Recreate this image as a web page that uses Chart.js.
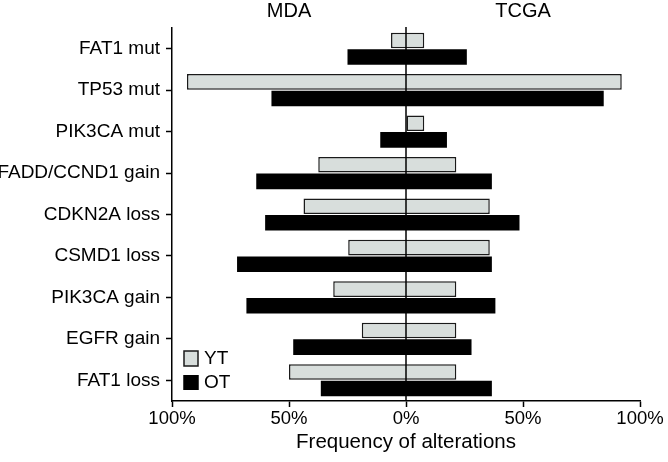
<!DOCTYPE html>
<html>
<head>
<meta charset="utf-8">
<script src="https://cdn.jsdelivr.net/npm/chart.js@4/dist/chart.umd.min.js"></script>
<style>
  html, body { margin: 0; padding: 0; background: #fff; }
  #wrap { width: 668px; height: 462px; }
</style>
</head>
<body>
<div id="wrap"><canvas id="altChart" width="668" height="462"></canvas></div>
<script>
const categories = ['FAT1 mut', 'TP53 mut', 'PIK3CA mut', 'FADD/CCND1 gain', 'CDKN2A loss',
                    'CSMD1 loss', 'PIK3CA gain', 'EGFR gain', 'FAT1 loss'];
// % altered, MDA cohort (drawn to the left) and TCGA (drawn to the right)
const ytMda  = [6.4, 93.6, 0, 37.5, 43.8, 24.7, 31.1, 18.9, 50.0];
const ytTcga = [7.8, 92.2, 7.8, 21.5, 35.8, 35.8, 21.5, 21.5, 21.5];
const otMda  = [25.0, 57.5, 11.0, 64.0, 60.2, 72.2, 68.2, 48.2, 36.4];
const otTcga = [26.0, 84.5, 17.5, 36.7, 48.5, 36.7, 38.2, 28.0, 36.7];
const xTicks = [-100, -50, 0, 50, 100];
const cohorts = ['MDA', 'TCGA'];

const FONT = "'Liberation Sans', Arial, Helvetica, sans-serif";
const YT_FILL = '#d8dedc';

const sidePlugin = {
    id: 'sideLabels',
    afterDatasetsDraw(chart) {
        const ctx = chart.ctx;
        const x = chart.scales.x;
        const area = chart.chartArea;
        // zero line on top of the bars
        const x0 = x.getPixelForValue(0);
        ctx.save();
        ctx.strokeStyle = '#000';
        ctx.lineWidth = 1.5;
        ctx.beginPath();
        ctx.moveTo(x0, area.top - 1);
        ctx.lineTo(x0, area.bottom);
        ctx.stroke();
        ctx.restore();
    },
    afterDraw(chart) {
        const ctx = chart.ctx;
        const x = chart.scales.x;
        const area = chart.chartArea;
        ctx.save();
        ctx.fillStyle = '#000';
        ctx.font = '20px ' + FONT;
        ctx.textAlign = 'center';
        ctx.textBaseline = 'middle';
        ctx.fillText(cohorts[0], x.getPixelForValue(-50), 11);
        ctx.fillText(cohorts[1], x.getPixelForValue(50), 11);

        // legend inside plot, bottom-left
        const lx = area.left + 12;
        const ly = area.bottom - 50;
        ctx.lineWidth = 1.5;
        ctx.fillStyle = YT_FILL;
        ctx.strokeStyle = '#1a1a1a';
        ctx.fillRect(lx, ly, 14, 15);
        ctx.strokeRect(lx, ly, 14, 15);
        ctx.fillStyle = '#000';
        ctx.fillRect(lx - 0.75, ly + 24, 15.5, 15);
        ctx.font = '19px ' + FONT;
        ctx.textAlign = 'left';
        ctx.fillText('YT', lx + 20, ly + 8);
        ctx.fillText('OT', lx + 20, ly + 32);
        ctx.restore();
    }
};

function initChart() {
    const ctx = document.getElementById('altChart').getContext('2d');
    new Chart(ctx, {
        type: 'bar',
        data: {
            labels: categories,
            datasets: [{
                label: 'YT',
                data: ytMda.map((v, i) => [-v, ytTcga[i]]),
                backgroundColor: YT_FILL,
                borderColor: '#1a1a1a',
                borderWidth: 1.5,
                borderSkipped: false
            }, {
                label: 'OT',
                data: otMda.map((v, i) => [-v, otTcga[i]]),
                backgroundColor: '#000',
                borderColor: '#000',
                borderWidth: 0
            }]
        },
        options: {
            indexAxis: 'y',
            responsive: false,
            animation: false,
            layout: { padding: { left: 0, right: 28, top: 28, bottom: 0 } },
            categoryPercentage: 0.8,
            barPercentage: 0.94,
            plugins: {
                legend: { display: false },
                tooltip: { enabled: false }
            },
            scales: {
                x: {
                    min: -100,
                    max: 100,
                    afterBuildTicks: (scale) => { scale.ticks = xTicks.map(v => ({ value: v })); },
                    afterFit: (scale) => { scale.height = 61; },
                    border: { display: true, color: '#000', width: 1.5 },
                    grid: { drawOnChartArea: false, tickLength: 6, color: '#000', tickWidth: 1.5 },
                    ticks: {
                        color: '#000',
                        padding: 1,
                        font: { family: FONT, size: 18.5 },
                        callback: (v) => Math.abs(v) + '%'
                    },
                    title: {
                        display: true,
                        text: 'Frequency of alterations',
                        color: '#000',
                        font: { family: FONT, size: 20.5 },
                        padding: { top: 0, bottom: 7 }
                    }
                },
                y: {
                    afterFit: (scale) => { scale.width = 172; },
                    border: { display: true, color: '#000', width: 1.5 },
                    grid: { drawOnChartArea: false, offset: false, tickLength: 6, color: '#000', tickWidth: 1.5 },
                    ticks: {
                        color: '#000',
                        padding: 6,
                        font: { family: FONT, size: 19 }
                    }
                }
            }
        },
        plugins: [sidePlugin]
    });
}

document.addEventListener('DOMContentLoaded', initChart);
</script>
</body>
</html>
